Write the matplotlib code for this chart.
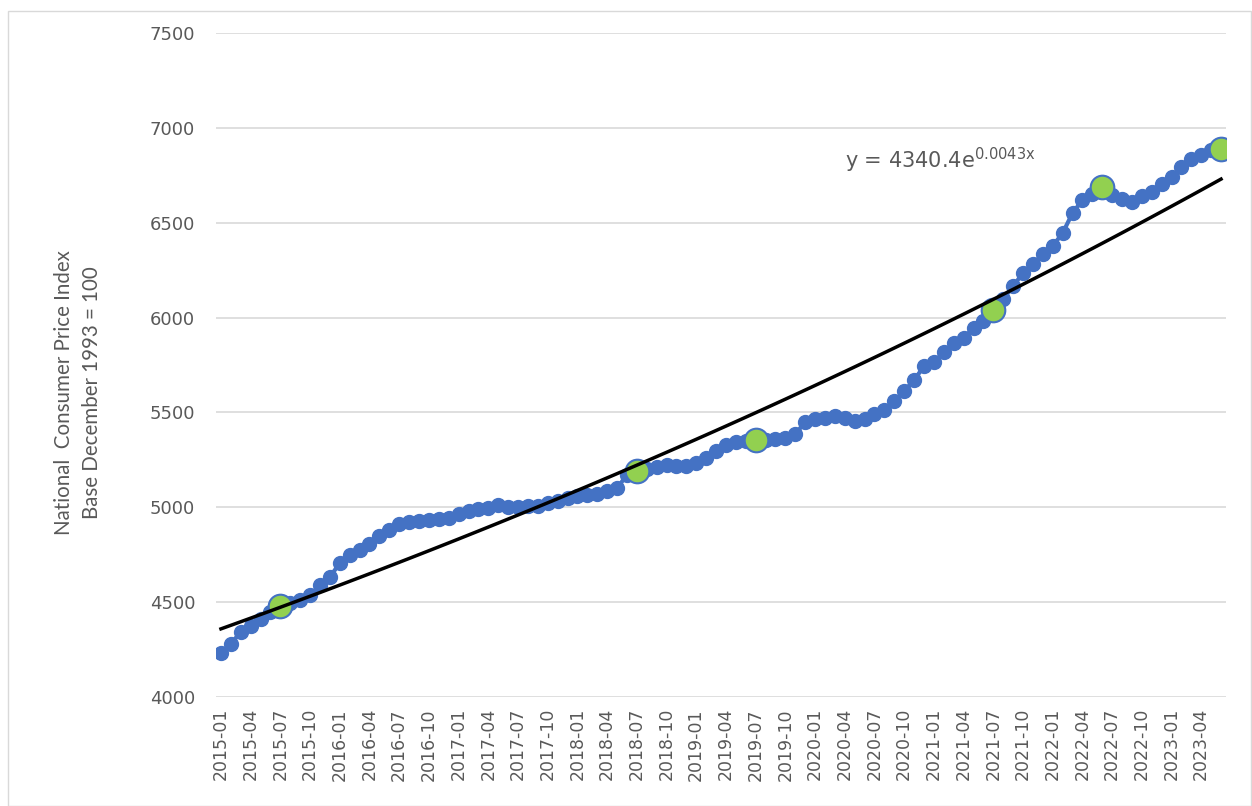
import numpy as np
import matplotlib.pyplot as plt
from matplotlib.patches import Rectangle

# monthly index, 2015-01 .. 2023-06
months = [f'{y}-{m:02d}' for y in range(2015, 2024) for m in range(1, 13)][:102]
cpi = [4232, 4280, 4343, 4374, 4411, 4448, 4480, 4495, 4511, 4537,
       4590, 4632, 4706, 4748, 4775, 4806, 4848, 4880, 4912, 4922,
       4928, 4933, 4938, 4943, 4964, 4980, 4990, 4996, 5012, 5001,
       5001, 5006, 5006, 5022, 5033, 5049, 5059, 5065, 5070, 5086,
       5101, 5170, 5191, 5201, 5212, 5222, 5217, 5217, 5233, 5259,
       5296, 5328, 5344, 5349, 5354, 5354, 5360, 5365, 5386, 5449,
       5465, 5470, 5481, 5470, 5454, 5465, 5491, 5512, 5560, 5613,
       5670, 5744, 5765, 5818, 5865, 5892, 5945, 5982, 6040, 6097,
       6166, 6234, 6282, 6335, 6377, 6445, 6551, 6619, 6651, 6688,
       6646, 6624, 6608, 6640, 6661, 6703, 6740, 6793, 6835, 6856,
       6883, 6888]
highlight = ['2015-07', '2018-07', '2019-07', '2021-07', '2022-06', '2023-06']

# exponential trendline from the chart label
a_coef = 4340.4
b_coef = 0.0043

blue = '#4472C4'
green = '#92D050'
grey = '#595959'

fig = plt.figure(figsize=(12.52, 8.06), dpi=100)
ax = fig.add_axes([216/1252, 1-697/806, 1010/1252, (697-33)/806])

x = np.arange(len(cpi))
ax.plot(x, cpi, color=blue, lw=3, marker='o', ms=10, mec=blue, mfc=blue, zorder=3)
hi = [months.index(m) for m in highlight]
ax.plot(hi, [cpi[i] for i in hi], ls='none', marker='o', ms=17,
        mfc=green, mec=blue, mew=1.5, zorder=4)

xt = np.arange(1, len(cpi)+1)
ax.plot(x, a_coef*np.exp(b_coef*xt), color='black', lw=2.5, zorder=5)

ax.text(845/1252, 1-160/806, r'y = 4340.4e$^{\mathrm{0.0043x}}$', transform=fig.transFigure,
        fontsize=15, color=grey, va='center', ha='left')

ax.set_xlim(-0.5, len(cpi)-0.5)
ax.set_ylim(4000, 7500)
ax.set_yticks(range(4000, 7501, 500))
ax.set_xticks(x[::3])
ax.set_xticklabels(months[::3], rotation=90, fontsize=12.5, color=grey)
ax.tick_params(axis='y', labelsize=13, colors=grey, length=0, pad=15)
ax.tick_params(axis='x', length=0, pad=8)
ax.grid(axis='y', color='#D9D9D9', lw=1.2)
ax.set_axisbelow(True)
for s in ax.spines.values():
    s.set_visible(False)

ax.set_ylabel('National  Consumer Price Index\nBase December 1993 = 100',
              family=['Lato', 'DejaVu Sans'], fontsize=14.8,
              color=grey, linespacing=1.5)
ax.yaxis.set_label_coords(-0.113, 0.458)

fig.patches.append(Rectangle((8/1252, 0), 1243/1252, 1-11/806, transform=fig.transFigure,
                             fill=False, ec='#D9D9D9', lw=1))

fig.savefig('out.png', dpi=100)
